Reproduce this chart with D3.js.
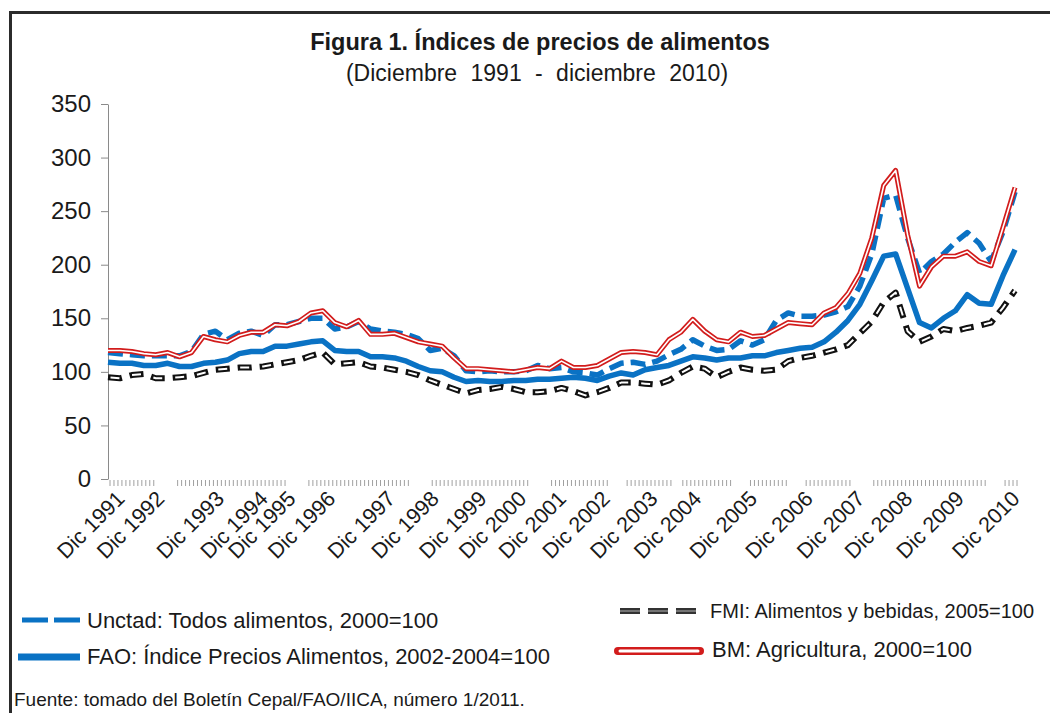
<!DOCTYPE html>
<html>
<head>
<meta charset="utf-8">
<script src="https://cdn.jsdelivr.net/npm/d3@7"></script>
<style>
  body { margin: 0; background: #fff; }
  svg text { font-family: "Liberation Sans", Arial, sans-serif; fill: #1a1a1a; }
</style>
</head>
<body>
<div id="chart"></div>
<script>
// one reading every 3 months, category 0 = Dic 1991, category 228 = Dic 2010
const sampleCat = d3.range(0, 229, 3);

const unctad = [118,117,116,115,115,115,115,119,135,138,
  130,136,138,134,144,144,147,150,150,140,
  142,147,140,138,137,135,131,120,122,115,
  101,100,101,100,100,101,106,103,104,100,
  99,97,103,108,109,107,110,116,121,130,
  124,120,121,129,125,130,148,155,152,152,
  153,156,161,180,210,262,265,225,192,203,
  210,221,230,220,203,231,268];

const fao = [109,108,108,106,106,108,105,105,108,109,
  111,117,119,119,124,124,126,128,129,120,
  119,119,114,114,113,110,105,101,100,95,
  91,92,91,91,92,92,93,93,94,95,
  94,92,96,99,97,102,104,106,110,114,
  113,111,113,113,115,115,118,120,122,123,
  128,137,148,163,185,208,210,178,146,141,
  150,157,172,164,163,190,214];

const fmi = [95,94,97,98,94,94,95,96,99,102,
  103,104,104,105,107,109,111,115,118,107,
  108,109,105,104,102,100,97,92,88,84,
  80,83,84,86,84,81,81,82,85,82,
  78,81,85,90,90,89,88,92,99,105,
  103,95,100,104,102,101,102,110,113,115,
  118,121,125,136,147,165,174,138,128,133,
  140,138,141,143,146,160,176];

const bm = [120,120,119,117,116,118,114,118,133,130,
  128,134,137,137,144,143,147,155,157,146,
  142,148,135,135,136,132,128,126,124,113,
  103,103,102,101,100,102,104,103,110,104,
  104,106,112,118,119,118,116,130,137,149,
  138,130,128,137,133,134,140,146,145,144,
  155,160,173,192,225,274,288,228,180,198,
  208,208,212,203,199,235,272];

const yTicks = [0, 50, 100, 150, 200, 250, 300, 350];

const xLabels = ["Dic 1991","Dic 1992","Dic 1993","Dic 1994","Dic 1995","Dic 1996","Dic 1997",
  "Dic 1998","Dic 1999","Dic 2000","Dic 2001","Dic 2002","Dic 2003","Dic 2004","Dic 2005",
  "Dic 2006","Dic 2007","Dic 2008","Dic 2009","Dic 2010"];
// category where each label sits (the source axis skips some months)
const xLabelCat = [2,12,27,38,45,55,70,81,93,103,113,124,136,147,161,175,188,200,213,227];

// runs of categories that carry a small tick mark
const tickRuns = [[0,11],[17,44],[50,75],[81,105],[111,125],[130,141],[144,156],[161,170],[175,186],[192,220],[225,228]];

const BLUE = "#0a72c4", RED = "#d21c1c", DARK = "#111";

const W = 1050, H = 713;
const margin = { top: 104, left: 108 };
const width = 907;
const height = 375;

const svg = d3.select("#chart").append("svg")
  .attr("width", W)
  .attr("height", H);

// frame
svg.append("rect")
  .attr("x", 10.5).attr("y", 12.5)
  .attr("width", 1100).attr("height", 800)
  .attr("fill", "none")
  .attr("stroke", "#2b2b2b")
  .attr("stroke-width", 3);

svg.append("text")
  .attr("x", 540).attr("y", 50)
  .attr("text-anchor", "middle")
  .style("font-size", "23.5px")
  .style("font-weight", "bold")
  .text("Figura 1. Índices de precios de alimentos");

svg.append("text")
  .attr("x", 537).attr("y", 81)
  .attr("text-anchor", "middle")
  .style("font-size", "23px")
  .style("word-spacing", "7px")
  .text("(Diciembre 1991 - diciembre 2010)");

const g = svg.append("g")
  .attr("transform", "translate(" + margin.left + "," + margin.top + ")");

const x = d3.scaleLinear().domain([0, 228]).range([0, width]);
const y = d3.scaleLinear().domain([0, 350]).range([height, 0]);

// y axis
const yAxis = g.append("g")
  .call(d3.axisLeft(y).tickValues(yTicks).tickSize(7).tickSizeOuter(0).tickPadding(10));
yAxis.select(".domain").attr("stroke", "#8a8a8a");
yAxis.selectAll(".tick line").attr("stroke", "#8a8a8a");
yAxis.selectAll(".tick text")
  .style("font-size", "24px")
  .attr("fill", "#1a1a1a")
  .attr("x", -17);

// small category ticks
const tickCats = tickRuns.flatMap(r => d3.range(r[0], r[1] + 1));
g.append("g").selectAll("line")
  .data(tickCats)
  .join("line")
  .attr("x1", d => x(d) + 2).attr("x2", d => x(d) + 2)
  .attr("y1", height + 1).attr("y2", height + 7)
  .attr("stroke", "#a0a0a0")
  .attr("stroke-width", 1);

// x labels
g.append("g").selectAll("text")
  .data(xLabels)
  .join("text")
  .attr("text-anchor", "end")
  .attr("transform", (d, i) => "translate(" + (x(xLabelCat[i]) + 10) + "," + (height + 21) + ") rotate(-45)")
  .style("font-size", "21.5px")
  .text(d => d);

const line = d3.line()
  .x((d, i) => x(sampleCat[i]))
  .y(d => y(d));

function addLine(values, stroke, w, dash, offset) {
  g.append("path")
    .datum(values)
    .attr("fill", "none")
    .attr("stroke", stroke)
    .attr("stroke-width", w)
    .attr("stroke-linejoin", "round")
    .attr("stroke-dasharray", dash || null)
    .attr("stroke-dashoffset", offset || 0)
    .attr("d", line);
}

// FMI: hollow black dashes
addLine(fmi, DARK, 6, "14 8");
addLine(fmi, "#fff", 2, "9 13", -2.5);
// FAO: solid blue
addLine(fao, BLUE, 5.5);
// Unctad: blue dashes
addLine(unctad, BLUE, 5.5, "15 7");
// BM: red double line
addLine(bm, RED, 5);
addLine(bm, "#fff", 1.6);

// legend
const leg = svg.append("g");
leg.append("line").attr("x1", 22).attr("x2", 80).attr("y1", 620).attr("y2", 620)
  .attr("stroke", BLUE).attr("stroke-width", 5).attr("stroke-dasharray", "26 6");
leg.append("text").attr("x", 87).attr("y", 628).style("font-size", "22px")
  .text("Unctad: Todos alimentos, 2000=100");

leg.append("line").attr("x1", 18).attr("x2", 80).attr("y1", 657).attr("y2", 657)
  .attr("stroke", BLUE).attr("stroke-width", 7);
leg.append("text").attr("x", 87).attr("y", 664).style("font-size", "22px")
  .text("FAO: Índice Precios Alimentos, 2002-2004=100");

leg.append("line").attr("x1", 620).attr("x2", 698).attr("y1", 611).attr("y2", 611)
  .attr("stroke", "#333").attr("stroke-width", 6).attr("stroke-dasharray", "20 8");
leg.append("line").attr("x1", 620).attr("x2", 698).attr("y1", 611).attr("y2", 611)
  .attr("stroke", "#8a8a8a").attr("stroke-width", 1.5).attr("stroke-dasharray", "20 8");
// a bit smaller than the other entries so it stays inside the page
leg.append("text").attr("x", 710).attr("y", 618).style("font-size", "20px")
  .text("FMI: Alimentos y bebidas, 2005=100");

leg.append("line").attr("x1", 618).attr("x2", 700).attr("y1", 651).attr("y2", 651)
  .attr("stroke", RED).attr("stroke-width", 8).attr("stroke-linecap", "round");
leg.append("line").attr("x1", 620).attr("x2", 698).attr("y1", 651).attr("y2", 651)
  .attr("stroke", "#fff").attr("stroke-width", 3).attr("stroke-linecap", "round");
leg.append("text").attr("x", 712).attr("y", 657).style("font-size", "22px")
  .text("BM: Agricultura, 2000=100");

svg.append("text")
  .attr("x", 14).attr("y", 706)
  .style("font-size", "19px")
  .text("Fuente: tomado del Boletín Cepal/FAO/IICA, número 1/2011.");
</script>
</body>
</html>
